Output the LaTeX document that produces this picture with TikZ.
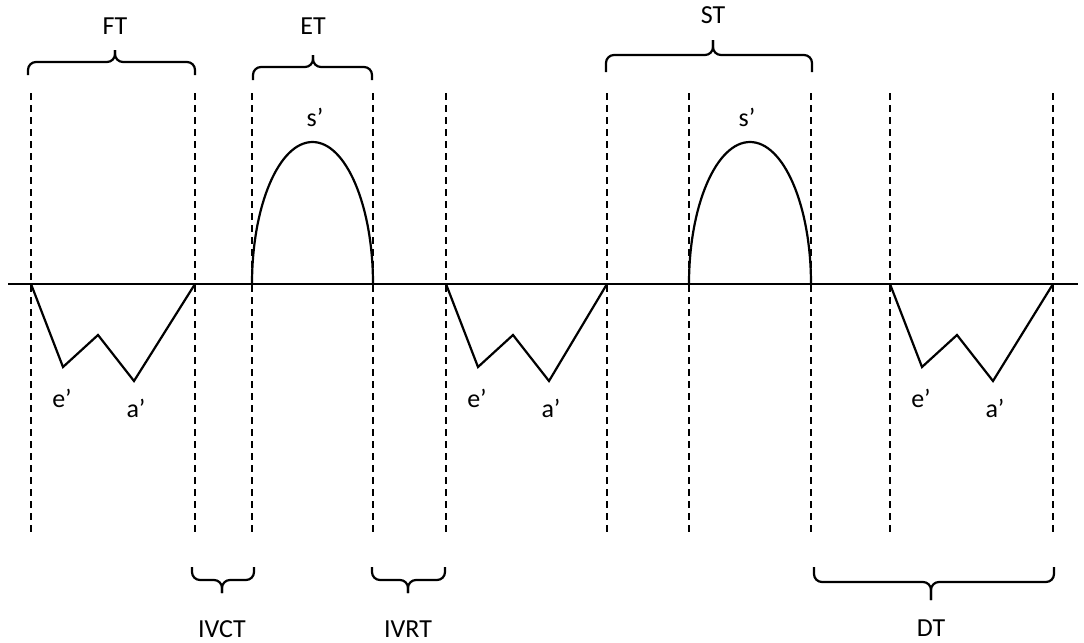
\documentclass[tikz,border=0pt]{standalone}
\usepackage{fontspec}
\setmainfont{Carlito}
\usetikzlibrary{positioning}

\begin{document}
\begin{tikzpicture}[
    x=0.5pt, y=-0.5pt,
    guide/.style={draw, dash pattern=on 3.5pt off 2.5pt, line width=0.8pt},
    axisline/.style={draw, line width=1.1pt},
    wave/.style={draw, line width=1.1pt, line join=miter},
    brk/.style={draw, line width=1.1pt, rounded corners=4pt},
    lbl/.style={font=\fontsize{13}{15}\selectfont, inner sep=0pt, anchor=base}
  ]
    \useasboundingbox (0,0) rectangle (1084,643);

    % dashed guides
    \foreach \x in {31,195,252,373,446,607,689,811,890,1053}
      \draw[guide] (\x,93) -- (\x,535);

    % baseline
    \draw[axisline] (8,284) -- (1078,284);

    % e' / a' waves
    \foreach \s/\e in {31/195, 446/607, 890/1053} {
      \draw[wave] (\s,284) -- ++(32,83) -- ++(35,-32) -- ++(36,46) -- (\e,284);
      \node[lbl] (ep\s) at (\s+31,407) {e’};
      \node[lbl] (ap\s) at (\s+105,417) {a’};
    }

    % s' waves
    \draw[wave] (252,284) .. controls (252,205.6) and (279.1,142) .. (312.5,142)
                          .. controls (345.9,142) and (373,205.6) .. (373,284);
    \draw[wave] (689,284) .. controls (689,205.6) and (716.3,142) .. (750,142)
                          .. controls (783.7,142) and (811,205.6) .. (811,284);
    \node[lbl] (s1) at (315,126) {s’};
    \node[lbl] (s2) at (747,126) {s’};

    % top braces
    \draw[brk] (28,75) |- (115,62) -- (115,50);
    \draw[brk] (195,75) |- (115,62) -- (115,50);
    \draw[brk] (253,80) |- (313,67) -- (313,55);
    \draw[brk] (372,80) |- (313,67) -- (313,55);
    \draw[brk] (606,72) |- (713,55) -- (713,40);
    \draw[brk] (812,72) |- (713,55) -- (713,40);
    \node[lbl] (ft) at (115,34) {FT};
    \node[lbl] (et) at (313,34) {ET};
    \node[lbl] (st) at (713,23) {ST};

    % bottom braces
    \draw[brk] (192,567) |- (222,580) -- (222,593);
    \draw[brk] (254,567) |- (222,580) -- (222,593);
    \draw[brk] (372,567) |- (408,580) -- (408,593);
    \draw[brk] (445,567) |- (408,580) -- (408,593);
    \draw[brk] (814,567) |- (931,582) -- (931,600);
    \draw[brk] (1054,567) |- (931,582) -- (931,600);
    \node[lbl] (ivct) at (222,637) {IVCT};
    \node[lbl] (ivrt) at (408,637) {IVRT};
    \node[lbl] (dt) at (931,636) {DT};
  \end{tikzpicture}
\end{document}
